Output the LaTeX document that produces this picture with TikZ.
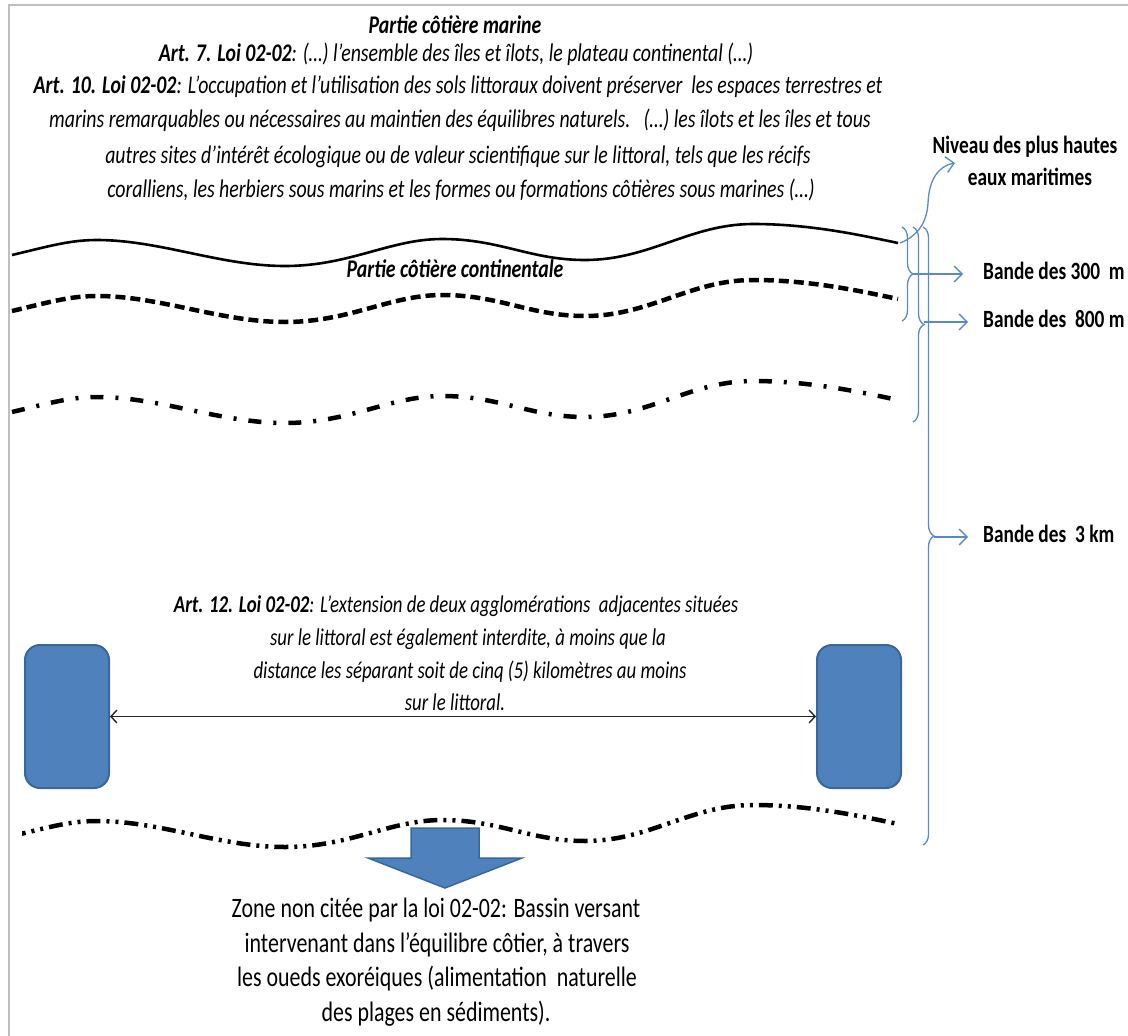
\documentclass[tikz,border=0pt]{standalone}
\usepackage{fontspec}
\setmainfont{Carlito}[FakeStretch=0.78]
\usetikzlibrary{arrows.meta,decorations.pathreplacing}

\definecolor{officeblue}{HTML}{4F81BD}
\definecolor{officeedge}{HTML}{3A679B}
\definecolor{framegray}{HTML}{BFBFBF}
\definecolor{bracecol}{HTML}{5A8AC6}

\tikzset{
  txt/.style={inner sep=0pt, text height=16pt, text depth=5pt},
  lawtop/.style={txt, font=\fontsize{25.4pt}{30pt}\selectfont\itshape},
  lawmid/.style={txt, font=\fontsize{24.1pt}{29pt}\selectfont\itshape},
  zone/.style={txt, font=\fontsize{28.1pt}{33pt}\selectfont},
  bfx/.style={txt, font=\fontsize{24.8pt}{29pt}\selectfont\bfseries},
  city/.style={draw=officeedge, line width=2pt, fill=officeblue,
               rounded corners=15pt, minimum width=84pt, minimum height=143pt},
  bandbrace/.style={draw=bracecol, line width=1.3pt, decorate,
                    decoration={brace, amplitude=11pt}},
  bandarrow/.style={draw=bracecol, line width=1.3pt,
                    -{Straight Barb[length=8pt,width=16pt]}},
  shoresolid/.style={draw=black, line width=2.6pt},
  shoredash/.style={draw=black, line width=4.5pt, dash pattern=on 10pt off 5pt},
  shoredashdot/.style={draw=black, line width=4.5pt,
                       dash pattern=on 13pt off 12pt on 3pt off 12pt},
  shoredashdotdot/.style={draw=black, line width=4.5pt,
                       dash pattern=on 14pt off 6pt on 3pt off 6pt on 3pt off 6pt},
  coastline/.pic={
    \path[pic actions] (12,255) .. controls (50,246) and (70,240) .. (97,240)
      .. controls (160,240) and (220,266) .. (285,266)
      .. controls (350,266) and (390,239) .. (442,239)
      .. controls (500,239) and (530,260) .. (585,260)
      .. controls (650,260) and (690,224) .. (753,224)
      .. controls (810,224) and (860,235) .. (898,243);
  }
}

\begin{document}
\begin{tikzpicture}[x=1pt, y=-1pt]
\useasboundingbox (0,0) rectangle (1128,1036);

% page frame (top and left edges)
\draw[framegray, line width=2.5pt] (9,1036) -- (9,5) -- (1128,5);

% marine part: legal texts
\node[lawtop] (m0) at (455,28) {\textbf{Partie côtière marine}};
\node[lawtop] (m1) at (456,56) {\textbf{Art. 7. Loi 02-02}: (…) l’ensemble des îles et îlots, le plateau continental (…)};
\node[lawtop] (m2) at (458,88) {\textbf{Art. 10. Loi 02-02}: L’occupation et l’utilisation des sols littoraux doivent préserver\ \ les espaces terrestres et};
\node[lawtop] (m3) at (460,122) {marins remarquables ou nécessaires au maintien des équilibres naturels.\ \ \ (…) les îlots et les îles et tous};
\node[lawtop] (m4) at (458,158) {autres sites d’intérêt écologique ou de valeur scientifique sur le littoral, tels que les récifs};
\node[lawtop] (m5) at (461,192) {coralliens, les herbiers sous marins et les formes ou formations côtières sous marines (…)};

% shore lines
\pic[shoresolid] at (0,0) {coastline};
\pic[shoredash] at (0,56) {coastline};
\pic[shoredashdot] at (0,157) {coastline};
\begin{scope}
  \clip (22,700) rectangle (910,900);
  \pic[shoredashdotdot] at (0,581) {coastline};
\end{scope}

\node[lawtop] (cont) at (455,272) {\textbf{Partie côtière continentale}};

% highest sea level label and its pointer
\node[bfx] (niv1) at (1025,148) {Niveau des plus hautes};
\node[bfx] (niv2) at (1030,180) {eaux maritimes};
\coordinate (shoreend) at (900,243);
\coordinate (nivtip) at (955,163);
\draw[bandarrow] (shoreend) .. controls (918,236) and (927,222) .. (928,203)
  .. controls (929,180) and (938,166) .. (nivtip);

% coastal bands
\coordinate (b1top) at (902,227);
\coordinate (b1bot) at (902,321);
\coordinate (b2top) at (913,227);
\coordinate (b2bot) at (913,422);
\coordinate (b3top) at (923,227);
\coordinate (b3bot) at (923,845);
\draw[bandbrace] (b1top) -- (b1bot);
\draw[bandbrace] (b2top) -- (b2bot);
\draw[bandbrace] (b3top) -- (b3bot);
\coordinate (b1tip) at (913,274);
\coordinate (b2tip) at (924,322);
\coordinate (b3tip) at (934,537);

\node[bfx, anchor=west] (l300) at (983,274) {Bande des 300\ \ m};
\node[bfx, anchor=west] (l800) at (983,322) {Bande des\ \ 800 m};
\node[bfx, anchor=west] (l3k) at (983,537) {Bande des\ \ 3 km};
\draw[bandarrow] (b1tip) -- ([xshift=-20pt]l300.west);
\draw[bandarrow] (b2tip) -- ([xshift=-15pt]l800.west);
\draw[bandarrow] (b3tip) -- ([xshift=-15pt]l3k.west);

% article 12: two agglomerations
\node[lawmid] (a1) at (456,607) {\textbf{Art. 12. Loi 02-02}: L'extension de deux agglomérations\ \ adjacentes situées};
\node[lawmid] (a2) at (468,640) {sur le littoral est également interdite, à moins que la};
\node[lawmid] (a3) at (470,673) {distance les séparant soit de cinq (5) kilomètres au moins};
\node[lawmid] (a4) at (455,705) {sur le littoral.};
\node[city] (cityL) at (67,716.5) {};
\node[city] (cityR) at (859,716.5) {};
\draw[black!85, line width=1.4pt, {Straight Barb[length=6pt,width=13pt]}-{Straight Barb[length=6pt,width=13pt]}]
  (cityL.east) -- (cityR.west);

% catchment area pointer
\draw[officeedge, line width=1.5pt, fill=officeblue]
  (411,828) -- (479,828) -- (479,858) -- (522,858) -- (445,888)
  -- (368,858) -- (411,858) -- cycle;

\node[zone] (z1) at (436,912) {Zone non citée par la loi 02-02: Bassin versant};
\node[zone] (z2) at (437,947) {intervenant dans l’équilibre côtier, à travers};
\node[zone] (z3) at (437,981) {les oueds exoréiques (alimentation\ \ naturelle};
\node[zone] (z4) at (436,1016) {des plages en sédiments).};
\end{tikzpicture}
\end{document}
